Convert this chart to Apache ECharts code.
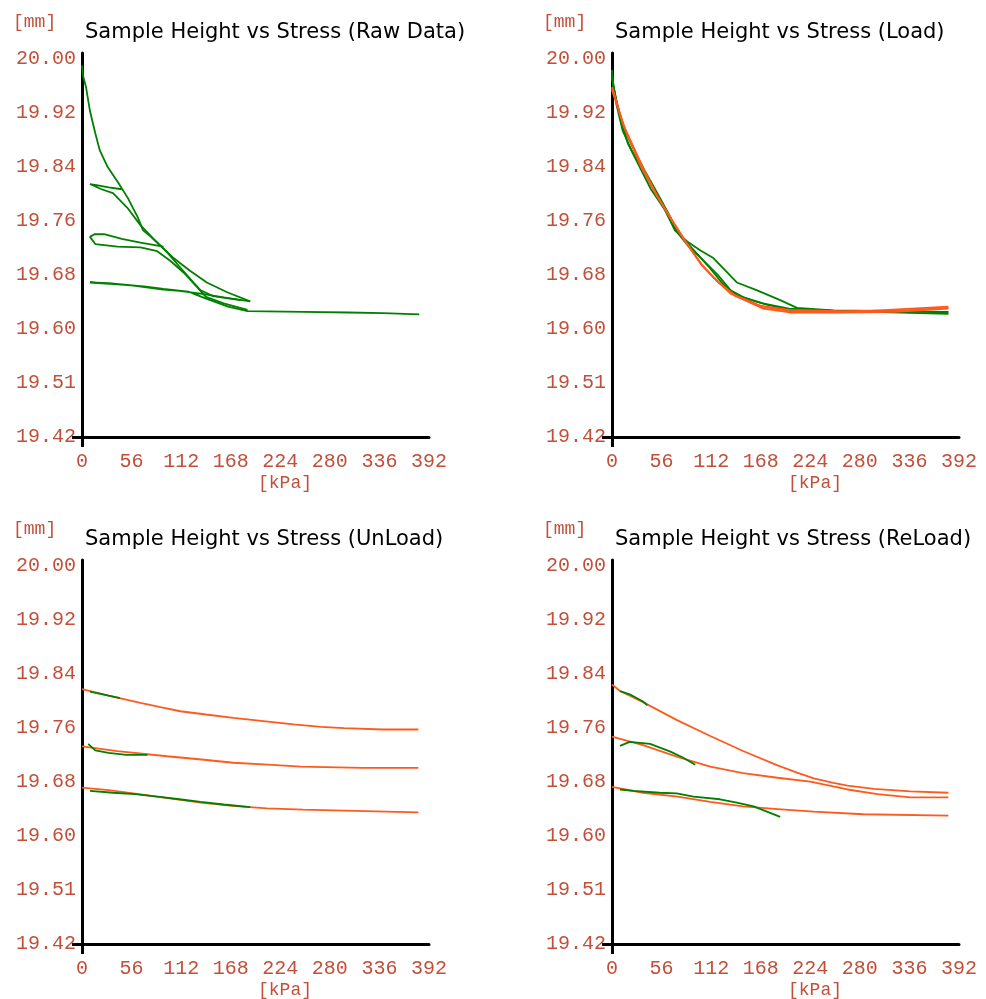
<!DOCTYPE html>
<html>
<head>
<meta charset="utf-8">
<script src="https://cdn.jsdelivr.net/npm/echarts@6/dist/echarts.min.js"></script>
<style>
html,body{margin:0;padding:0;background:#fff;}
#chart{width:986px;height:999px;}
</style>
</head>
<body>
<div id="chart"></div>
<script>
// ---------- tick labels ----------
const yLabels = ['19.42','19.51','19.60','19.68','19.76','19.84','19.92','20.00'];
const xTicks = [0, 56, 112, 168, 224, 280, 336, 392];
const chartTitles = [
  'Sample Height vs Stress (Raw Data)',
  'Sample Height vs Stress (Load)',
  'Sample Height vs Stress (UnLoad)',
  'Sample Height vs Stress (ReLoad)'
];

// ---------- Raw Data (green) : [kPa, mm] ----------
const rawLoad = [[0,19.99],[1,19.975],[4.5,19.957],[9,19.92],[15,19.886],[20,19.86],[29,19.834],[41,19.81],[52,19.786],[63,19.757],[69,19.737],[78,19.727],[88,19.714],[103,19.695],[122,19.675],[141,19.657],[164,19.642],[190,19.628]];
const rawLoop1 = [[45,19.80],[30,19.803],[18,19.806],[9,19.808],[9,19.806],[22,19.80],[35,19.794],[51,19.772],[66,19.745],[80,19.725],[95,19.705],[111,19.68],[126,19.657],[134,19.645],[148,19.636],[179,19.63]];
const rawLoop2 = [[92,19.712],[66,19.718],[45,19.724],[25,19.731],[14,19.731],[9,19.727],[9,19.725],[15,19.716],[40,19.712],[66,19.711],[85,19.705],[100,19.69],[115,19.672],[130,19.65],[140,19.635],[160,19.625],[187,19.615]];
const rawLoop3 = [[190,19.628],[160,19.634],[134,19.64],[110,19.644],[92,19.646],[60,19.652],[30,19.656],[9,19.657],[9,19.655],[40,19.654],[70,19.651],[92,19.647],[120,19.643],[141,19.632],[165,19.62],[187,19.613],[250,19.612],[300,19.611],[340,19.61],[381,19.608]];

// ---------- Load (green data, orange fit) ----------
const loadG1 = [[0,19.983],[1,19.96],[4.5,19.94],[10,19.906],[18,19.87],[29,19.84],[44,19.80],[60,19.768],[71,19.737],[85,19.72],[100,19.706],[114,19.695],[141,19.657],[164,19.645],[190,19.63],[209,19.618],[250,19.614],[330,19.613],[380,19.611]];
const loadG2 = [[0,19.975],[5,19.93],[12,19.89],[22,19.86],[35,19.83],[50,19.793],[63,19.76],[72,19.737],[85,19.715],[100,19.695],[120,19.668],[134,19.645],[150,19.633],[175,19.623],[200,19.615],[250,19.613],[380,19.612]];
const loadG3 = [[0,19.97],[6,19.928],[14,19.892],[25,19.86],[38,19.826],[52,19.792],[65,19.76],[75,19.733],[90,19.71],[110,19.68],[125,19.655],[140,19.638],[170,19.625],[200,19.617],[260,19.613],[380,19.609]];
const loadO1 = [[0,19.957],[7,19.926],[12.5,19.90],[21.5,19.87],[33,19.834],[49,19.794],[63,19.763],[83,19.72],[100,19.686],[115,19.665],[134,19.64],[171,19.617],[201,19.611],[260,19.611],[320,19.612],[380,19.617]];
const loadO2 = [[0,19.955],[8,19.92],[14,19.895],[24,19.865],[36,19.83],[51,19.79],[66,19.756],[85,19.715],[104,19.68],[122,19.655],[140,19.636],[165,19.622],[200,19.615],[260,19.613],[330,19.614],[380,19.618]];
const loadO3 = [[0,19.952],[6,19.928],[13,19.898],[23,19.868],[35,19.832],[50,19.792],[64,19.76],[84,19.718],[102,19.683],[118,19.66],[138,19.638],[170,19.62],[200,19.613],[270,19.612],[380,19.62]];

// ---------- UnLoad ----------
const unloadO1 = [[0,19.811],[30,19.801],[66,19.790],[90,19.783],[111,19.777],[140,19.772],[171,19.767],[205,19.762],[239,19.757],[270,19.753],[296,19.751],[340,19.749],[380,19.749]];
const unloadO2 = [[0,19.723],[40,19.716],[96,19.708],[135,19.703],[171,19.698],[210,19.695],[247,19.692],[317,19.69],[380,19.69]];
const unloadO3 = [[0,19.66],[30,19.656],[58,19.651],[95,19.644],[134,19.637],[170,19.632],[209,19.628],[250,19.626],[284,19.625],[380,19.622]];
const unloadG1 = [[9,19.807],[30,19.801],[43,19.797]];
const unloadG2 = [[7,19.727],[15,19.717],[30,19.713],[50,19.71],[74,19.71]];
const unloadG3 = [[9,19.655],[35,19.652],[60,19.65],[85,19.646],[110,19.642],[134,19.638],[160,19.634],[190,19.63]];

// ---------- ReLoad ----------
const reloadO1 = [[0,19.818],[9,19.808],[35,19.791],[74,19.763],[111,19.739],[148,19.716],[187,19.694],[209,19.683],[228,19.674],[250,19.667],[266,19.663],[296,19.658],[337,19.654],[380,19.652]];
const reloadO2 = [[0,19.738],[35,19.725],[74,19.707],[111,19.692],[148,19.682],[187,19.675],[224,19.669],[266,19.657],[300,19.65],[337,19.645],[380,19.645]];
const reloadO3 = [[0,19.661],[35,19.652],[74,19.646],[111,19.638],[148,19.631],[187,19.627],[228,19.623],[284,19.619],[380,19.617]];
const reloadG1 = [[9,19.808],[20,19.803],[35,19.792],[40,19.786]];
const reloadG2 = [[9,19.724],[20,19.730],[43,19.727],[66,19.715],[80,19.706],[94,19.695]];
const reloadG3 = [[9,19.657],[24,19.655],[54,19.652],[73,19.651],[92,19.646],[122,19.642],[141,19.637],[160,19.631],[175,19.623],[190,19.615]];

const GREEN = '#008000';
const ORANGE = '#ff5a1e';
const LABEL = '#c0503a';
const MONO = '"Liberation Mono", "DejaVu Sans Mono", monospace';

const yStep = (20.00 - 19.42) / 7;
const yTickValues = yLabels.map((_, i) => 19.42 + i * yStep);

const gridPos = [
  {left: 82, top: 53},
  {left: 612, top: 53},
  {left: 82, top: 560},
  {left: 612, top: 560}
];

const grids = [], xAxes = [], yAxes = [], titles = [], series = [];
gridPos.forEach((g, i) => {
  grids.push({left: g.left, top: g.top, width: 347, height: 384, containLabel: false});
  xAxes.push({
    type: 'value', gridIndex: i, min: 0, max: 392,
    axisLine: {show: true, onZero: false, lineStyle: {color: '#000', width: 3}},
    axisTick: {show: true, customValues: [0], length: 10, lineStyle: {color: '#000', width: 3}},
    splitLine: {show: false},
    axisLabel: {customValues: xTicks, color: LABEL, fontFamily: MONO, fontSize: 20, margin: 15}
  });
  yAxes.push({
    type: 'value', gridIndex: i, min: 19.42, max: 20.009,
    axisLine: {show: true, onZero: false, lineStyle: {color: '#000', width: 3}},
    axisTick: {show: true, customValues: [19.42], length: 10, lineStyle: {color: '#000', width: 3}},
    splitLine: {show: false},
    axisLabel: {
      customValues: yTickValues, color: LABEL, fontFamily: MONO, fontSize: 20, margin: 6,
      formatter: v => yLabels[Math.round((v - 19.42) / yStep)]
    }
  });
  titles.push({
    text: chartTitles[i], left: g.left + 3, top: g.top - 31, padding: 0,
    textStyle: {fontFamily: '"DejaVu Sans", sans-serif', fontSize: 21, fontWeight: 'normal', color: '#000'}
  });
  titles.push({
    text: '[mm]', left: g.left - 69, top: g.top - 40, padding: 0,
    textStyle: {fontFamily: MONO, fontSize: 18, fontWeight: 'normal', color: LABEL}
  });
  titles.push({
    text: '[kPa]', left: g.left + 176, top: g.top + 421, padding: 0,
    textStyle: {fontFamily: MONO, fontSize: 18, fontWeight: 'normal', color: LABEL}
  });
});

function addLine(idx, data, color) {
  series.push({
    type: 'line', xAxisIndex: idx, yAxisIndex: idx, data: data,
    showSymbol: false, symbol: 'none', silent: true,
    lineStyle: {color: color, width: 1.8}
  });
}

[rawLoad, rawLoop1, rawLoop2, rawLoop3].forEach(d => addLine(0, d, GREEN));
[loadG1, loadG2, loadG3].forEach(d => addLine(1, d, GREEN));
[loadO1, loadO2, loadO3].forEach(d => addLine(1, d, ORANGE));
[unloadO1, unloadO2, unloadO3].forEach(d => addLine(2, d, ORANGE));
[unloadG1, unloadG2, unloadG3].forEach(d => addLine(2, d, GREEN));
[reloadO1, reloadO2, reloadO3].forEach(d => addLine(3, d, ORANGE));
[reloadG1, reloadG2, reloadG3].forEach(d => addLine(3, d, GREEN));

const chart = echarts.init(document.getElementById('chart'));
chart.setOption({
  backgroundColor: '#fff',
  animation: false,
  title: titles,
  grid: grids,
  xAxis: xAxes,
  yAxis: yAxes,
  series: series
});
</script>
</body>
</html>
